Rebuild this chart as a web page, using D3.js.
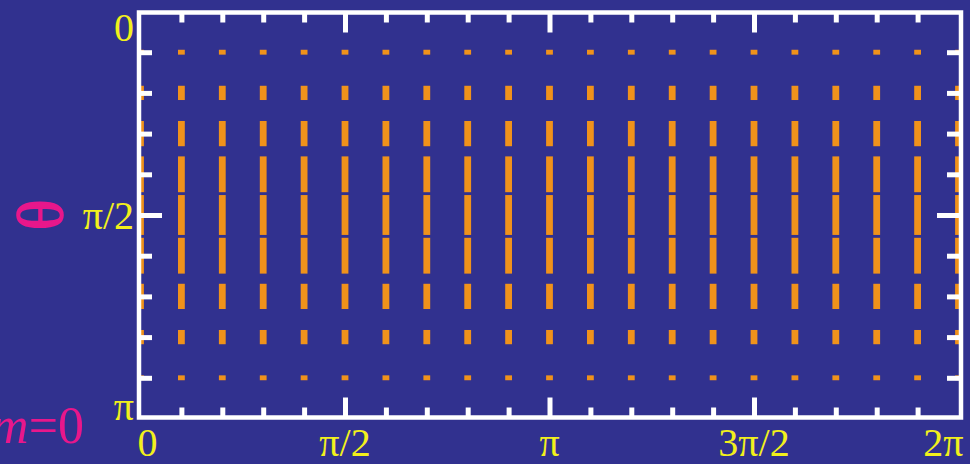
<!DOCTYPE html>
<html>
<head>
<meta charset="utf-8">
<script src="https://cdn.jsdelivr.net/npm/d3@7"></script>
<style>
  html, body { margin: 0; padding: 0; background: #31318f; overflow: hidden; }
  svg { display: block; }
</style>
</head>
<body>
<svg id="chart" width="970" height="464"></svg>
<script>
const PI = Math.PI;

// Grid nodes, in multiples of π
const phiNodes = [0, 0.1, 0.2, 0.3, 0.4, 0.5, 0.6, 0.7, 0.8, 0.9, 1.0,
                  1.1, 1.2, 1.3, 1.4, 1.5, 1.6, 1.7, 1.8, 1.9, 2.0];
const thetaNodes = [0.1, 0.2, 0.3, 0.4, 0.5, 0.6, 0.7, 0.8, 0.9];

// Field strength at each θ row (m = 0: identical for every φ)
const fieldStrength = [0.12, 0.35, 0.62, 0.88, 0.98, 0.88, 0.62, 0.35, 0.12];

// Tick positions, in multiples of π
const phiMinorTicks = [0.1, 0.2, 0.3, 0.4, 0.6, 0.7, 0.8, 0.9,
                       1.1, 1.2, 1.3, 1.4, 1.6, 1.7, 1.8, 1.9];
const phiMajorTicks = [0.5, 1.0, 1.5];
const thetaMinorTicks = [0.1, 0.2, 0.3, 0.4, 0.6, 0.7, 0.8, 0.9];
const thetaMajorTicks = [0.5];

// Tick labels
const phiLabelValues = [0, 0.5, 1.0, 1.5, 2.0];
const phiLabelText = ["0", "π/2", "π", "3π/2", "2π"];
const thetaLabelValues = [0, 0.5, 1.0];
const thetaLabelText = ["0", "π/2", "π"];

const axisTitle = "θ";
const modeLabel = { symbol: "m", rest: "=0" };

const colors = {
  background: "#31318f",
  frame: "#ffffff",
  dash: "#f0921b",
  tickText: "#f2f01c",
  title: "#e8178b"
};

const svg = d3.select("#chart");
svg.append("rect").attr("width", 970).attr("height", 464).attr("fill", colors.background);

const frame = { left: 139, right: 961, top: 12.5, bottom: 417.5 };

const x = d3.scaleLinear().domain([0, 2 * PI]).range([140.5, 958.5]);
const y = d3.scaleLinear().domain([0, PI]).range([11.5, 418.5]);

// Field dashes: vertical segments centred on each grid node,
// full length of one grid spacing (π/10) at strength 1
const dashWidth = 6.8;
const rows = thetaNodes.map((t, i) => ({ theta: t * PI, s: fieldStrength[i] }));
const cells = [];
rows.forEach(r => phiNodes.forEach(p => cells.push({ phi: p * PI, theta: r.theta, s: r.s })));

svg.append("g")
  .selectAll("rect")
  .data(cells)
  .join("rect")
  .attr("x", d => x(d.phi) - dashWidth / 2)
  .attr("width", dashWidth)
  .attr("y", d => y(d.theta - d.s * PI / 20))
  .attr("height", d => y(d.theta + d.s * PI / 20) - y(d.theta - d.s * PI / 20))
  .attr("fill", colors.dash);

// Ticks on all four sides, pointing inward
function drawTicks(axis, tx, ty) {
  const g = svg.append("g").attr("transform", `translate(${tx},${ty})`).call(axis);
  g.select(".domain").remove();
  g.selectAll("text").remove();
  g.selectAll("line").attr("stroke", colors.frame).attr("stroke-width", 5);
}
const piVals = arr => arr.map(v => v * PI);

drawTicks(d3.axisTop(x).tickValues(piVals(phiMinorTicks)).tickSize(-10).tickFormat(""), 0, frame.top);
drawTicks(d3.axisTop(x).tickValues(piVals(phiMajorTicks)).tickSize(-20).tickFormat(""), 0, frame.top);
drawTicks(d3.axisBottom(x).tickValues(piVals(phiMinorTicks)).tickSize(-10).tickFormat(""), 0, frame.bottom);
drawTicks(d3.axisBottom(x).tickValues(piVals(phiMajorTicks)).tickSize(-20).tickFormat(""), 0, frame.bottom);
drawTicks(d3.axisLeft(y).tickValues(piVals(thetaMinorTicks)).tickSize(-13).tickFormat(""), frame.left, 0);
drawTicks(d3.axisLeft(y).tickValues(piVals(thetaMajorTicks)).tickSize(-23).tickFormat(""), frame.left, 0);
drawTicks(d3.axisRight(y).tickValues(piVals(thetaMinorTicks)).tickSize(-14).tickFormat(""), frame.right, 0);
drawTicks(d3.axisRight(y).tickValues(piVals(thetaMajorTicks)).tickSize(-24).tickFormat(""), frame.right, 0);

// Plot frame
svg.append("rect")
  .attr("x", frame.left).attr("y", frame.top)
  .attr("width", frame.right - frame.left).attr("height", frame.bottom - frame.top)
  .attr("fill", "none").attr("stroke", colors.frame).attr("stroke-width", 4.5);

const tickFont = "'Liberation Serif', 'Times New Roman', serif";

// φ labels along the bottom; end labels kept inside the frame span
svg.append("g")
  .selectAll("text")
  .data(phiLabelValues)
  .join("text")
  .attr("x", (d, i) => i === 0 ? x(d * PI) - 3 : i === phiLabelValues.length - 1 ? x(d * PI) + 5 : x(d * PI))
  .attr("y", 456)
  .attr("text-anchor", (d, i) => i === 0 ? "start" : i === phiLabelValues.length - 1 ? "end" : "middle")
  .attr("font-family", tickFont)
  .attr("font-size", 40)
  .attr("fill", colors.tickText)
  .text((d, i) => phiLabelText[i]);

// θ labels on the left
svg.append("g")
  .selectAll("text")
  .data(thetaLabelValues)
  .join("text")
  .attr("x", 134)
  .attr("y", (d, i) => i === 0 ? y(d * PI) + 29.5 : i === thetaLabelValues.length - 1 ? y(d * PI) + 1.5 : y(d * PI) + 14)
  .attr("text-anchor", "end")
  .attr("font-family", tickFont)
  .attr("font-size", 40)
  .attr("fill", colors.tickText)
  .text((d, i) => thetaLabelText[i]);

// Axis title θ, turned on its side
svg.append("text")
  .attr("transform", `translate(40,${y(PI / 2)}) rotate(-90)`)
  .attr("x", 0)
  .attr("y", 22)
  .attr("text-anchor", "middle")
  .attr("font-family", tickFont)
  .attr("font-size", 64)
  .attr("fill", colors.title)
  .attr("stroke", colors.title)
  .attr("stroke-width", 1.6)
  .text(axisTitle);

// Mode number label
const mt = svg.append("text")
  .attr("x", 84)
  .attr("y", 443)
  .attr("text-anchor", "end")
  .attr("font-family", tickFont)
  .attr("font-size", 52)
  .attr("fill", colors.title);
mt.append("tspan").attr("font-style", "italic").text(modeLabel.symbol);
mt.append("tspan").text(modeLabel.rest);
</script>
</body>
</html>
